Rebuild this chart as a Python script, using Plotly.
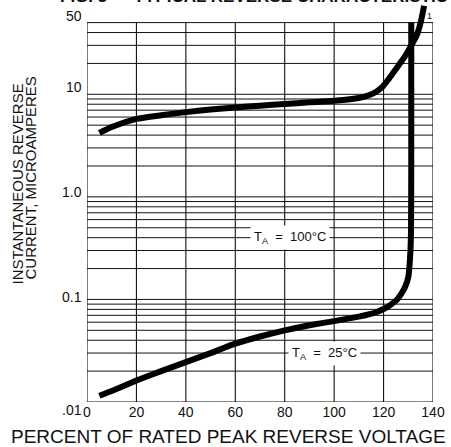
import math
import plotly.graph_objects as go

# ---------------- data ----------------
X_TICKS = [0, 20, 40, 60, 80, 100, 120, 140]
X_TICK_TEXT = ["0", "20", "40", "60", "80", "100", "120", "140"]

Y_TICK_VALUES = [50, 10, 1.0, 0.1, 0.01]
Y_TICK_TEXT = ["50", "10", "1.0", "0.1", ".01"]

# log-paper horizontal rulings
Y_GRID = [0.01, 0.02, 0.03, 0.04, 0.05, 0.06, 0.07, 0.08, 0.09,
          0.1, 0.2, 0.3, 0.4, 0.5, 0.6, 0.7, 0.8, 0.9,
          1, 2, 3, 4, 5, 6, 7, 8, 9,
          10, 20, 30, 40, 50]

# T_A = 100 C
x_100 = [5, 10, 20, 30, 40, 50, 60, 70, 80, 90, 100, 110, 114, 117, 119.5,
         122, 125.3, 128.7, 130.7, 133.4, 135, 136.4]
y_100 = [4.2, 4.8, 5.75, 6.25, 6.7, 7.1, 7.45, 7.75, 8.05, 8.35, 8.65, 9.2, 9.8,
         10.6, 11.8, 14.0, 18.0, 23.5, 28.5, 37.5, 50, 73]

# T_A = 25 C
x_25 = [5, 10, 20, 30, 40, 50, 60, 70, 80, 90, 100, 110, 113, 117, 120.6, 123,
        125.3, 127, 128.7, 130, 130.7, 131.1, 131.2, 131.2]
y_25 = [0.0115, 0.0128, 0.0162, 0.0200, 0.0245, 0.0300, 0.0370, 0.0435, 0.0500,
        0.0560, 0.0615, 0.068, 0.0705, 0.075, 0.082, 0.089, 0.0987, 0.112, 0.132,
        0.165, 0.25, 0.45, 2.0, 50]

LABEL_100 = "T<sub>A</sub>  =  100°C"
LABEL_25 = "T<sub>A</sub>  =  25°C"
TITLE = "FIG. 3 — TYPICAL REVERSE CHARACTERISTIC"
X_TITLE = "PERCENT OF RATED PEAK REVERSE VOLTAGE"
Y_TITLE_1 = "INSTANTANEOUS REVERSE"
Y_TITLE_2 = "CURRENT, MICROAMPERES"

# ---------------- figure ----------------
FONT = "Liberation Sans, Arial, Helvetica, sans-serif"
INK = "#111111"

xmin, xmax = X_TICKS[0], X_TICKS[-1]
ymin, ymax = Y_GRID[0], Y_GRID[-1]

fig = go.Figure()

# grid (vertical)
gx, gy = [], []
for xv in X_TICKS:
    gx += [xv, xv, None]
    gy += [ymin, ymax, None]
fig.add_trace(go.Scatter(x=gx, y=gy, mode="lines", line=dict(color=INK, width=1.1),
                         hoverinfo="skip", showlegend=False))
# grid (horizontal)
hx, hy = [], []
for yv in Y_GRID:
    hx += [xmin, xmax, None]
    hy += [yv, yv, None]
fig.add_trace(go.Scatter(x=hx, y=hy, mode="lines", line=dict(color=INK, width=1),
                         hoverinfo="skip", showlegend=False))

# curves
fig.add_trace(go.Scatter(x=x_100, y=y_100, mode="lines",
                         line=dict(color="black", width=6, shape="spline", smoothing=0.6),
                         showlegend=False, name="100°C"))
fig.add_trace(go.Scatter(x=x_25, y=y_25, mode="lines",
                         line=dict(color="black", width=6, shape="spline", smoothing=0.4),
                         showlegend=False, name="25°C"))

ann = []
# y tick labels (offset like the original printed scale)
y_label_shift = [7, 7, 5, 2, -8]
for v, t, s in zip(Y_TICK_VALUES, Y_TICK_TEXT, y_label_shift):
    ann.append(dict(x=0, xref="paper", xanchor="right", xshift=-3,
                    y=math.log10(v), yref="y", yanchor="middle", yshift=s,
                    text=t, showarrow=False, font=dict(family=FONT, size=14, color=INK)))

# curve labels
ann.append(dict(x=82, y=math.log10(0.4), xref="x", yref="y", text=LABEL_100,
                showarrow=False, bgcolor="white", borderpad=3,
                font=dict(family=FONT, size=13, color=INK)))
ann.append(dict(x=96, y=math.log10(0.03), xref="x", yref="y", text=LABEL_25,
                showarrow=False, bgcolor="white", borderpad=3,
                font=dict(family=FONT, size=13, color=INK)))
ann.append(dict(x=138.4, y=math.log10(50), xref="x", yref="y", yshift=7, text="1",
                showarrow=False, font=dict(family=FONT, size=9, color=INK)))

# axis titles
ann.append(dict(x=(228 - 87) / 346, y=(402 - 436) / 400, xref="paper", yref="paper",
                xanchor="center", yanchor="middle", text=X_TITLE, showarrow=False,
                font=dict(family=FONT, size=19, color=INK)))
ann.append(dict(x=0, xshift=17.5 - 87, y=(402 - 184) / 400, xref="paper", yref="paper",
                xanchor="center", yanchor="middle", textangle=-90, text=Y_TITLE_1,
                showarrow=False, font=dict(family=FONT, size=15, color=INK)))
ann.append(dict(x=0, xshift=30.5 - 87, y=(402 - 178) / 400, xref="paper", yref="paper",
                xanchor="center", yanchor="middle", textangle=-90, text=Y_TITLE_2,
                showarrow=False, font=dict(family=FONT, size=15, color=INK)))
# cut-off figure title
ann.append(dict(x=0, xshift=58 - 87, y=1, yshift=-6, xref="paper", yref="paper",
                xanchor="left", yanchor="bottom", text="<b>" + TITLE + "</b>",
                showarrow=False, font=dict(family=FONT, size=17, color=INK)))

fig.update_layout(
    width=451, height=447,
    margin=dict(l=87, r=18, t=2, b=45),
    paper_bgcolor="white", plot_bgcolor="white",
    showlegend=False,
    annotations=ann,
    xaxis=dict(range=[xmin, xmax], tickvals=X_TICKS, ticktext=X_TICK_TEXT,
               showgrid=False, zeroline=False, showline=False, ticks="",
               tickfont=dict(family=FONT, size=14, color=INK)),
    yaxis=dict(type="log", range=[math.log10(ymin), math.log10(ymax) + 20.6 / 102.57],
               showgrid=False, zeroline=False, showline=False, showticklabels=False,
               ticks=""),
)

fig.write_html("out.html", config={"displayModeBar": False},
               post_script="document.body.style.margin='0px';")
